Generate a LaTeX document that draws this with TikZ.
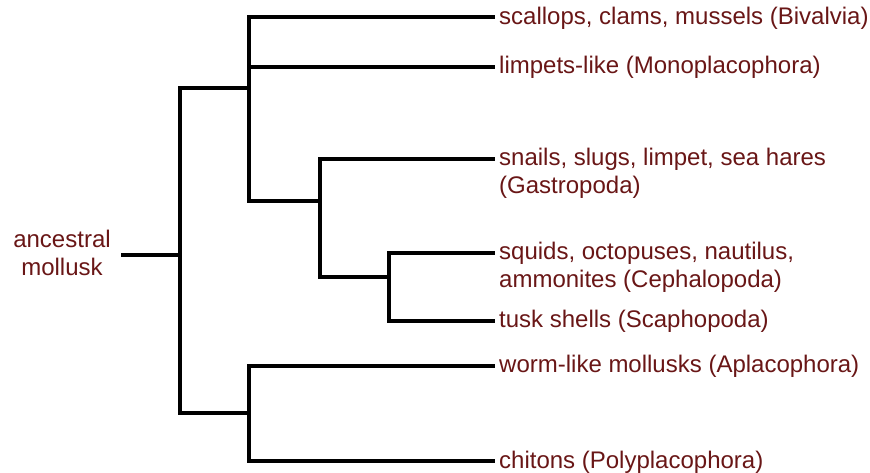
\documentclass[tikz,border=0pt]{standalone}
\usepackage{fontspec}
\setmainfont{Liberation Sans}
\definecolor{labelred}{RGB}{105,22,22}
\begin{document}
\begin{tikzpicture}[x=1bp,y=-1bp,
  branch/.style={line width=4.3bp, line join=miter, black},
  leaflabel/.style={anchor=base west, inner sep=0pt, text=labelred,
    font=\fontsize{24bp}{28bp}\selectfont}]
\useasboundingbox (0,0) rectangle (870,473);
% internal nodes
\coordinate (s0) at (121,255);
\coordinate (P1) at (180,255);
\coordinate (C2) at (249,88);
\coordinate (C3) at (320,201);
\coordinate (C4) at (389,277);
\coordinate (C5) at (249,413);
% leaf ends
\coordinate (eBiv) at (495,17);
\coordinate (eMono) at (495,67);
\coordinate (eGas) at (495,159);
\coordinate (eCep) at (495,253);
\coordinate (eSca) at (495,321);
\coordinate (eApl) at (495,366);
\coordinate (ePol) at (495,461);
% labels
\node[leaflabel, anchor=base] (anc) at (62,248) {\begin{tabular}[t]{@{}c@{}}ancestral\\mollusk\end{tabular}};
\node[leaflabel] (lBiv) at ([shift={(4,8)}]eBiv) {scallops, clams, mussels (Bivalvia)};
\node[leaflabel] (lMono) at ([shift={(4,7)}]eMono) {limpets-like (Monoplacophora)};
\node[leaflabel] (lGas) at ([shift={(4,7)}]eGas) {\begin{tabular}[t]{@{}l@{}}snails, slugs, limpet, sea hares\\(Gastropoda)\end{tabular}};
\node[leaflabel] (lCep) at ([shift={(4,7)}]eCep) {\begin{tabular}[t]{@{}l@{}}squids, octopuses, nautilus,\\ammonites (Cephalopoda)\end{tabular}};
\node[leaflabel] (lSca) at ([shift={(4,7)}]eSca) {tusk shells (Scaphopoda)};
\node[leaflabel] (lApl) at ([shift={(4,7)}]eApl) {worm-like mollusks (Aplacophora)};
\node[leaflabel] (lPol) at ([shift={(4,7)}]ePol) {chitons (Polyplacophora)};
% branches
\draw[branch] (s0) -- (P1);
\draw[branch] (P1) |- (C2);
\draw[branch] (P1) |- (C5);
\draw[branch] (C2) |- (eBiv);
\draw[branch] (C2) |- (eMono);
\draw[branch] (C2) |- (C3);
\draw[branch] (C3) |- (eGas);
\draw[branch] (C3) |- (C4);
\draw[branch] (C4) |- (eCep);
\draw[branch] (C4) |- (eSca);
\draw[branch] (C5) |- (eApl);
\draw[branch] (C5) |- (ePol);
\end{tikzpicture}
\end{document}
